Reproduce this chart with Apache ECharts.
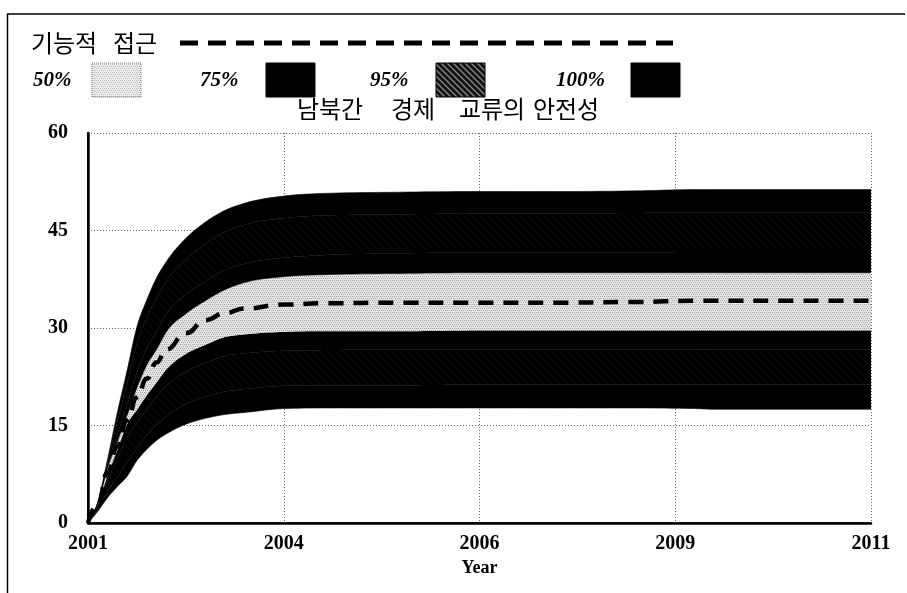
<!DOCTYPE html>
<html><head><meta charset="utf-8">
<script src="https://cdn.jsdelivr.net/npm/echarts@6/dist/echarts.min.js"></script>
<style>html,body{margin:0;padding:0;background:#fff}#c{width:907px;height:593px}</style>
</head><body><div id="c"></div>
<script>
// time offset from 2001 (years)
const T        = [0, 0.125, 0.25, 0.375, 0.5, 0.625, 0.75, 0.875, 1, 1.25, 1.5, 1.75, 2, 2.5, 3, 4, 5, 6, 7, 7.75, 8, 9, 10];
const UPPER100 = [0, 3.2, 9.8, 17.0, 23.5, 30.2, 34.3, 37.7, 40.2, 43.8, 46.3, 48.1, 49.2, 50.3, 50.7, 50.9, 51.0, 51.0, 51.1, 51.3, 51.3, 51.3, 51.3];
const UPPER95  = [0, 3.15, 9.4, 15.6, 21.5, 27.6, 31.5, 34.6, 37.2, 40.6, 43.0, 44.8, 45.9, 46.9, 47.3, 47.5, 47.6, 47.6, 47.7, 47.8, 47.8, 47.8, 47.8];
const UPPER75  = [0, 3.05, 8.8, 13.6, 18.3, 23.2, 26.8, 29.4, 32.1, 35.1, 37.2, 38.9, 39.9, 40.8, 41.2, 41.5, 41.6, 41.6, 41.6, 41.7, 41.7, 41.7, 41.7];
const UPPER50  = [0, 3.0, 8.5, 12.5, 16.6, 20.8, 24.3, 26.7, 29.4, 32.2, 34.2, 35.9, 37.0, 37.9, 38.2, 38.4, 38.5, 38.5, 38.5, 38.5, 38.5, 38.5, 38.5];
const MEDIAN   = [0, 2.9, 7.8, 11.8, 15.8, 19.3, 22.2, 24.7, 26.7, 29.2, 31.2, 32.3, 33.0, 33.6, 33.8, 33.9, 33.9, 33.9, 34.0, 34.2, 34.2, 34.2, 34.2];
const LOWER50  = [0, 2.8, 7.3, 11.2, 15.2, 17.4, 19.6, 21.6, 23.6, 26.0, 27.4, 28.6, 29.0, 29.4, 29.5, 29.5, 29.6, 29.6, 29.6, 29.6, 29.6, 29.6, 29.6];
const LOWER75  = [0, 2.6, 6.6, 9.9, 13.2, 15.4, 17.5, 19.4, 21.1, 23.3, 24.6, 25.7, 26.1, 26.5, 26.6, 26.7, 26.7, 26.7, 26.7, 26.7, 26.7, 26.7, 26.7];
const LOWER95  = [0, 2.1, 4.9, 7.1, 9.3, 11.6, 13.5, 15.1, 16.4, 18.3, 19.4, 20.2, 20.6, 21.1, 21.2, 21.2, 21.3, 21.3, 21.3, 21.3, 21.3, 21.3, 21.3];
const LOWER100 = [0, 1.8, 3.9, 5.6, 7.2, 9.6, 11.3, 12.7, 13.7, 15.2, 16.1, 16.7, 17.0, 17.6, 17.7, 17.7, 17.7, 17.7, 17.7, 17.6, 17.5, 17.5, 17.5];
const XTICKS   = ['2001', '2004', '2006', '2009', '2011'];
const LEGEND   = ['50%', '75%', '95%', '100%'];
const TITLE_WORDS = ['남북간', '경제', '교류의', '안전성'];
const LINE_NAME = '기능적 접근';

function hatch(bg, fg, size, lw) {
  const c = document.createElement('canvas');
  c.width = size; c.height = size;
  const g = c.getContext('2d');
  g.fillStyle = bg; g.fillRect(0, 0, size, size);
  g.strokeStyle = fg; g.lineWidth = lw;
  g.beginPath();
  g.moveTo(-1, -1); g.lineTo(size + 1, size + 1);
  g.moveTo(-1, size - 1); g.lineTo(1, size + 1);
  g.moveTo(size - 1, -1); g.lineTo(size + 1, 1);
  g.stroke();
  return { image: c, repeat: 'repeat' };
}
function stipple(bg, fg, size) {
  const c = document.createElement('canvas');
  c.width = size; c.height = size;
  const g = c.getContext('2d');
  g.fillStyle = bg; g.fillRect(0, 0, size, size);
  g.fillStyle = fg;
  for (let y = 0; y < size; y += 2) for (let x = (y / 2) % 2; x < size; x += 2) g.fillRect(x, y, 1, 1);
  return { image: c, repeat: 'repeat' };
}
const plotHatch = hatch('#000', '#0b0b0b', 8, 1);
const legHatch = hatch('#111', '#8a8a8a', 6, 1.3);
const lightFill = stipple('#e6e6e6', '#a4a4a4', 8);
const legLight = stipple('#eeeeee', '#b5b5b5', 8);

// monotone cubic tangents (used only to draw smooth band edges through the data points)
function tangents(x, y) {
  const n = x.length, m = new Array(n).fill(0);
  const s = [];
  for (let i = 0; i < n - 1; i++) s.push((y[i + 1] - y[i]) / (x[i + 1] - x[i]));
  for (let i = 1; i < n - 1; i++) {
    const h0 = x[i] - x[i - 1], h1 = x[i + 1] - x[i];
    const p = (s[i - 1] * h1 + s[i] * h0) / (h0 + h1);
    m[i] = (Math.sign(s[i - 1]) + Math.sign(s[i])) * Math.min(Math.abs(s[i - 1]), Math.abs(s[i]), 0.5 * Math.abs(p)) || 0;
  }
  m[0] = s[0]; m[n - 1] = s[n - 2];
  return m;
}
function sampleCurve(x, y) {
  const m = tangents(x, y), out = [];
  for (let i = 0; i < x.length - 1; i++) {
    const h = x[i + 1] - x[i];
    const steps = 10;
    for (let k = 0; k < steps; k++) {
      const t = k / steps, t2 = t * t, t3 = t2 * t;
      const v = (2 * t3 - 3 * t2 + 1) * y[i] + (t3 - 2 * t2 + t) * h * m[i] + (-2 * t3 + 3 * t2) * y[i + 1] + (t3 - t2) * h * m[i + 1];
      out.push([x[i] + h * t, v]);
    }
  }
  out.push([x[x.length - 1], y[y.length - 1]]);
  return out;
}

const bandDefs = [
  ['l100-95', LOWER95, LOWER100, '#000'],
  ['l95-75', LOWER75, LOWER95, plotHatch],
  ['l75-50', LOWER50, LOWER75, '#000'],
  ['50%', UPPER50, LOWER50, lightFill],
  ['u50-75', UPPER75, UPPER50, '#000'],
  ['u75-95', UPPER95, UPPER75, plotHatch],
  ['u95-100', UPPER100, UPPER95, '#000']
];
const series = bandDefs.map(d => ({
  type: 'custom', name: d[0], coordinateSystem: 'cartesian2d', clip: true, silent: true,
  data: [[0, 0]],
  renderItem: function (params, api) {
    const up = sampleCurve(T, d[1]).map(p => api.coord(p));
    const lo = sampleCurve(T, d[2]).map(p => api.coord(p)).reverse();
    return { type: 'polygon', shape: { points: up.concat(lo) },
      style: { fill: d[3], stroke: d[3] === '#000' ? '#000' : null, lineWidth: 0.6 } };
  }
}));
series.push({
  type: 'line', name: LINE_NAME, data: T.map((t, i) => [t, MEDIAN[i]]), symbol: 'none',
  smooth: 0.5, smoothMonotone: 'x', z: 5,
  lineStyle: { color: '#000', width: 4.5, type: [15, 10], cap: 'butt' }
});

const serif = 'Liberation Serif, Times New Roman, serif';
const kor = 'Noto Sans CJK KR';
const nameWords = LINE_NAME.split(' ');
const graphics = [
  { type: 'line', shape: { x1: 7, y1: 14, x2: 905, y2: 14 }, style: { stroke: '#000', lineWidth: 1.5 } },
  { type: 'line', shape: { x1: 7.5, y1: 14, x2: 7.5, y2: 593 }, style: { stroke: '#000', lineWidth: 1.5 } },
  { type: 'text', x: 64, y: 43, style: { text: nameWords[0], font: '400 24px ' + kor, fill: '#000', align: 'center', verticalAlign: 'middle' } },
  { type: 'text', x: 135, y: 43, style: { text: nameWords[1], font: '400 24px ' + kor, fill: '#000', align: 'center', verticalAlign: 'middle' } },
  { type: 'line', shape: { x1: 180, y1: 43, x2: 673, y2: 43 }, style: { stroke: '#000', lineWidth: 5, lineDash: [18, 10] } }
];
const legX = [[33, 92], [200, 266], [370, 436], [556, 631]];
const legFill = [legLight, '#000', legHatch, '#000'];
LEGEND.forEach((t, i) => {
  graphics.push({ type: 'text', left: legX[i][0], top: 70, style: { text: t, font: 'italic bold 21px ' + serif, fill: '#000' } });
  graphics.push({ type: 'rect', shape: { x: legX[i][1], y: 63, width: 49, height: 34 },
    style: { fill: legFill[i], stroke: i === 0 ? '#777' : '#000', lineWidth: 1, lineDash: i === 0 ? [1, 1] : null } });
});
const titleCx = [330, 413, 492, 566];
TITLE_WORDS.forEach((w, i) => graphics.push({ type: 'text', x: titleCx[i], y: 109,
  style: { text: w, font: '400 24px ' + kor, fill: '#000', align: 'center', verticalAlign: 'middle' } }));

const chart = echarts.init(document.getElementById('c'), null, { renderer: 'canvas' });
chart.setOption({
  animation: false,
  backgroundColor: '#fff',
  grid: { left: 88, right: 36, top: 133, bottom: 70, show: false },
  xAxis: [{
    type: 'value', min: 0, max: 10, interval: 2.5,
    axisLine: { show: true, onZero: false, lineStyle: { color: '#000', width: 2.5 } },
    axisTick: { show: false },
    axisLabel: { margin: 11, color: '#000', fontFamily: serif, fontWeight: 'bold', fontSize: 20,
      formatter: v => XTICKS[Math.round(v / 2.5)] },
    splitLine: { show: true, lineStyle: { color: '#666', width: 1, type: [1, 2] } },
    name: 'Year', nameLocation: 'middle', nameGap: 33,
    nameTextStyle: { color: '#000', fontFamily: serif, fontWeight: 'bold', fontSize: 18 }
  }, {
    type: 'value', min: 0, max: 10, position: 'top', z: 6,
    axisLine: { show: true, lineStyle: { color: '#000', width: 1.5 } },
    axisTick: { show: false }, axisLabel: { show: false }, splitLine: { show: false }
  }],
  yAxis: [{
    type: 'value', min: 0, max: 60, interval: 15,
    axisLine: { show: true, onZero: false, lineStyle: { color: '#000', width: 2.5 } },
    axisTick: { show: false },
    axisLabel: { margin: 20, color: '#000', fontFamily: serif, fontWeight: 'bold', fontSize: 20 },
    splitLine: { show: true, lineStyle: { color: '#666', width: 1, type: [1, 2] } }
  }, {
    type: 'value', min: 0, max: 60, position: 'right', z: 6,
    axisLine: { show: true, lineStyle: { color: '#000', width: 2 } },
    axisTick: { show: false }, axisLabel: { show: false }, splitLine: { show: false }
  }],
  series: series,
  graphic: graphics
});
</script></body></html>
